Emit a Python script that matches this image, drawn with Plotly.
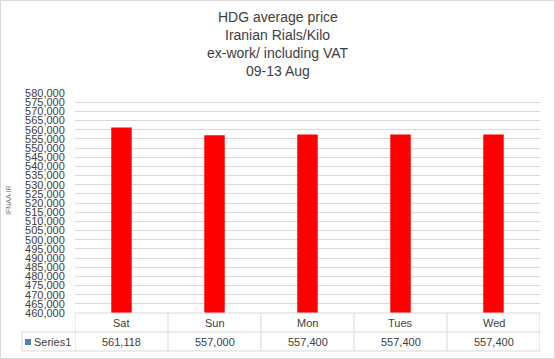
import plotly.graph_objects as go

categories = ["Sat", "Sun", "Mon", "Tues", "Wed"]
values = [561118, 557000, 557400, 557400, 557400]
value_labels = ["561,118", "557,000", "557,400", "557,400", "557,400"]
series_name = "Series1"
title_lines = ["HDG average price", "Iranian Rials/Kilo", "ex-work/ including VAT", "09-13 Aug"]
y_min, y_max, y_step = 460000, 580000, 5000

W, H = 555, 359
L, R, T, B = 75, 15, 93, 46
PW, PH = W - L - R, H - T - B

def px_x(px):
    return (px - L) / PW

def px_y(py):
    return (H - B - py) / PH

FONT = "Liberation Sans"
TXT = "#404040"
LINE = "#D9D9D9"

xs = list(range(len(categories)))
fig = go.Figure(go.Bar(x=xs, y=values, marker=dict(color="#FF0000", line=dict(width=0)),
                       width=0.22, name=series_name))

tickvals = list(range(y_min, y_max + 1, y_step))
fig.update_layout(
    width=W, height=H, margin=dict(l=L, r=R, t=T, b=B),
    paper_bgcolor="white", plot_bgcolor="white", showlegend=False,
    font=dict(family=FONT, size=11, color=TXT),
    xaxis=dict(range=[-0.5, len(categories) - 0.5], showticklabels=False, showgrid=False,
               zeroline=False, showline=False, fixedrange=True),
    yaxis=dict(range=[y_min, y_max], tickvals=tickvals,
               ticktext=[f"{v:,}" for v in tickvals], showgrid=True, gridcolor=LINE,
               gridwidth=1, zeroline=False, showline=False, ticks="outside", ticklen=7,
               tickcolor="rgba(0,0,0,0)",
               tickfont=dict(family=FONT, size=11, color=TXT)),
)

shapes = []
annotations = []
# outer border
shapes.append(dict(type="rect", xref="paper", yref="paper",
                   x0=px_x(0.5), x1=px_x(W - 0.5), y0=px_y(H - 0.5), y1=px_y(0.5),
                   line=dict(color=LINE, width=1)))
# table lines
y_top, y_mid, y_bot = px_y(313), px_y(332), px_y(351)
shapes.append(dict(type="line", xref="paper", yref="paper", x0=0, x1=1, y0=y_top, y1=y_top,
                   line=dict(color=LINE, width=1)))
shapes.append(dict(type="line", xref="paper", yref="paper", x0=px_x(22), x1=1, y0=y_mid, y1=y_mid,
                   line=dict(color=LINE, width=1)))
shapes.append(dict(type="line", xref="paper", yref="paper", x0=px_x(22), x1=1, y0=y_bot, y1=y_bot,
                   line=dict(color=LINE, width=1)))
shapes.append(dict(type="line", xref="paper", yref="paper", x0=px_x(22), x1=px_x(22), y0=y_mid, y1=y_bot,
                   line=dict(color=LINE, width=1)))
for i in range(len(categories) + 1):
    shapes.append(dict(type="line", xref="x", yref="paper", x0=i - 0.5, x1=i - 0.5, y0=y_top, y1=y_bot,
                       line=dict(color=LINE, width=1)))
# legend key
shapes.append(dict(type="rect", xref="paper", yref="paper", x0=px_x(25), x1=px_x(31),
                   y0=px_y(345), y1=px_y(339), fillcolor="#4F81BD", line=dict(width=0)))
annotations.append(dict(xref="paper", yref="paper", x=px_x(32), y=(y_mid + y_bot) / 2, text=series_name,
                        showarrow=False, xanchor="left", yanchor="middle",
                        font=dict(family=FONT, size=11, color=TXT)))
for i, (c, v) in enumerate(zip(categories, value_labels)):
    annotations.append(dict(xref="x", yref="paper", x=i, y=(y_top + y_mid) / 2, text=c, showarrow=False,
                            yanchor="middle", font=dict(family=FONT, size=11, color=TXT)))
    annotations.append(dict(xref="x", yref="paper", x=i, y=(y_mid + y_bot) / 2, text=v, showarrow=False,
                            yanchor="middle", font=dict(family=FONT, size=11, color=TXT)))
# title
for k, line in enumerate(title_lines):
    annotations.append(dict(xref="paper", yref="paper", x=px_x(W / 2), y=px_y(17 + 18 * k), text=line,
                            showarrow=False, xanchor="center", yanchor="middle",
                            font=dict(family=FONT, size=14, color=TXT)))
# side label
annotations.append(dict(xref="paper", yref="paper", x=px_x(8), y=px_y(200), text="IFNAA.IR",
                        textangle=-90, showarrow=False, xanchor="center", yanchor="middle",
                        font=dict(family=FONT, size=7, color="#808080")))

fig.update_layout(shapes=shapes, annotations=annotations)
fig.write_html("out.html", config={"displayModeBar": False},
               post_script="document.body.style.margin='0';document.body.style.overflow='hidden';")
